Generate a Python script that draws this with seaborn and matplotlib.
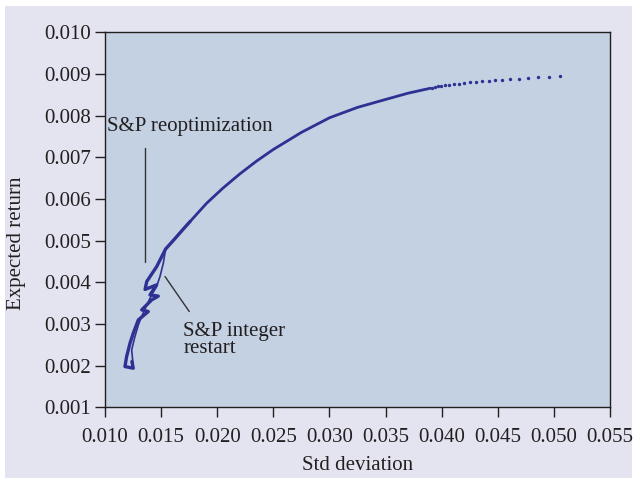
import numpy as np
import pandas as pd
import matplotlib
matplotlib.use('Agg')
import matplotlib.pyplot as plt
from matplotlib.ticker import FormatStrFormatter
import seaborn as sns

sns.set_theme(style='ticks')
plt.rcParams['font.family'] = ['Liberation Serif', 'DejaVu Serif']

# upper frontier (dense part)
front_x = [0.01758, 0.01906, 0.02050, 0.02200, 0.02350, 0.02500, 0.02750,
           0.03000, 0.03250, 0.03500, 0.03700, 0.03900]
front_y = [0.00546, 0.00590, 0.00626, 0.00660, 0.00691, 0.00719, 0.00760,
           0.00795, 0.00820, 0.00839, 0.00854, 0.00866]

# sparse dots at the tail
tail_x = [0.03914, 0.03938, 0.03968, 0.03997, 0.04033, 0.04069, 0.04110,
          0.04152, 0.04200, 0.04253, 0.04307, 0.04360, 0.04420, 0.04479,
          0.04538, 0.04610, 0.04687, 0.04770, 0.04859, 0.04955, 0.05055]
tail_y = [0.00867, 0.00869, 0.00871, 0.00872, 0.00873, 0.00874, 0.00876,
          0.00877, 0.00879, 0.00880, 0.00881, 0.00883, 0.00884, 0.00885,
          0.00886, 0.00888, 0.00889, 0.00891, 0.00892, 0.00893, 0.00895]

# S&P reoptimization trace (lower, zig-zag)
reopt_x = [0.01758, 0.01698, 0.01620, 0.01540, 0.01461, 0.01372, 0.01357,
           0.01460, 0.01401, 0.01475, 0.01416, 0.01327, 0.01386, 0.01297,
           0.01252, 0.01223, 0.01193, 0.01178, 0.01252, 0.01240]
reopt_y = [0.00546, 0.00528, 0.00504, 0.00480, 0.00438, 0.00402, 0.00383,
           0.00394, 0.00370, 0.00367, 0.00358, 0.00334, 0.00330, 0.00310,
           0.00278, 0.00254, 0.00222, 0.00198, 0.00194, 0.00210]

# S&P integer restart trace
restart_x = [0.01540, 0.01520, 0.01490, 0.01460, 0.01420, 0.01380, 0.01330,
             0.01300, 0.01267, 0.01238, 0.01252]
restart_y = [0.00480, 0.00446, 0.00414, 0.00390, 0.00372, 0.00350, 0.00320,
             0.00300, 0.00270, 0.00238, 0.00198]

x_ticks = [0.010, 0.015, 0.020, 0.025, 0.030, 0.035, 0.040, 0.045, 0.050, 0.055]
y_ticks = [0.001, 0.002, 0.003, 0.004, 0.005, 0.006, 0.007, 0.008, 0.009, 0.010]

blue = '#2e3192'
txt = '#231f20'
fs = 15

fig = plt.figure(figsize=(6.37, 4.82), dpi=100)
fig.patch.set_facecolor('white')
fig.patches.append(plt.Rectangle((5 / 637, 4 / 482), 627 / 637, 472 / 482,
                                 transform=fig.transFigure, facecolor='#e3e4f0',
                                 edgecolor='none', zorder=-10))
ax = fig.add_axes([0.1648, 0.1548, 0.7928, 0.778])
ax.set_facecolor('#c3d1e3')

sns.lineplot(x=front_x, y=front_y, sort=False, estimator=None, color=blue,
             lw=2.0, ax=ax)
sns.lineplot(x=reopt_x, y=reopt_y, sort=False, estimator=None, color=blue,
             lw=2.4, ax=ax)
sns.lineplot(x=restart_x, y=restart_y, sort=False, estimator=None, color=blue,
             lw=1.2, ax=ax)
sns.scatterplot(x=tail_x, y=tail_y, color=blue, s=6, linewidth=0, ax=ax)

# annotations
ax.plot([0.01357, 0.01357], [0.00722, 0.00450], color='#333333', lw=1)
ax.text(0.01018, 0.00773, 'S&P reoptimization', fontsize=fs, color=txt,
        va='center', ha='left')
ax.plot([0.01535, 0.01751], [0.00414, 0.00330], color='#333333', lw=1)
ax.text(0.01698, 0.00261, 'S&P integer\nrestart', fontsize=fs, color=txt,
        va='center', ha='left', linespacing=0.85)

ax.set_xlim(0.010, 0.055)
ax.set_ylim(0.001, 0.010)
ax.set_xticks(x_ticks)
ax.set_yticks(y_ticks)
ax.xaxis.set_major_formatter(FormatStrFormatter('%.3f'))
ax.yaxis.set_major_formatter(FormatStrFormatter('%.3f'))
ax.tick_params(direction='out', length=7, width=1, color='#231f20',
               labelsize=fs, labelcolor=txt, pad=3)
ax.tick_params(axis='x', pad=8)
for s in ax.spines.values():
    s.set_visible(True)
    s.set_color('#231f20')
    s.set_linewidth(1)

ax.set_xlabel('Std deviation', fontsize=fs, color=txt)
ax.set_ylabel('Expected return', fontsize=fs, color=txt)
ax.xaxis.set_label_coords(0.5, -0.154)
ax.xaxis.label.set_verticalalignment('center')
ax.yaxis.set_label_coords(-0.175, 0.438)
ax.yaxis.label.set_verticalalignment('center')

fig.savefig('out.png', dpi=100)
